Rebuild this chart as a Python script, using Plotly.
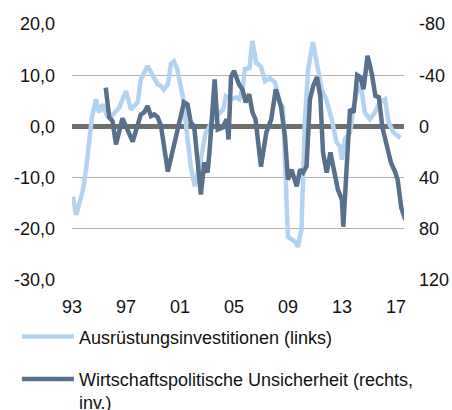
import plotly.graph_objects as go

# Ausrüstungsinvestitionen (links), % yoy
inv_years = [1993.07, 1993.3, 1993.52, 1993.81, 1994.04, 1994.26, 1994.48, 1994.78, 1995.0, 1995.27,
             1995.6, 1995.8, 1996.1, 1996.5, 1997.0, 1997.37, 1997.87, 1998.1, 1998.6, 1998.98,
             1999.35, 1999.6, 1999.8, 2000.1, 2000.33, 2000.55, 2000.8, 2001.2, 2001.57, 2001.8,
             2002.1, 2002.55, 2002.9, 2003.07, 2003.44, 2004.2, 2004.4, 2004.8, 2005.15, 2005.4,
             2005.67, 2005.8, 2006.15, 2006.37, 2006.65, 2007.0, 2007.3, 2007.67, 2008.04, 2008.4,
             2008.63, 2008.78, 2009.0, 2009.52, 2009.74, 2010.0, 2010.26, 2010.5, 2010.85, 2011.13,
             2011.5, 2011.87, 2012.24, 2012.6, 2012.85, 2013.0, 2013.22, 2013.6, 2013.87, 2014.24,
             2014.48, 2014.7, 2015.07, 2015.44, 2015.8, 2016.19, 2016.46, 2016.83, 2017.2, 2017.3]
inv_values = [-13.7, -17.3, -15.3, -12.4, -8.4, -2.5, 1.8, 5.3, 2.7, 4.3,
              2.0, 1.6, 2.4, 3.7, 6.9, 3.3, 4.7, 9.2, 11.8, 9.9,
              8.2, 7.9, 7.2, 8.2, 12.2, 12.7, 11.2, 5.9, -2.5, -7.8,
              -11.7, -6.5, -1.2, -0.6, 1.4, 3.3, 5.9, 5.3, 5.7, 5.3,
              7.8, 11.2, 11.4, 16.7, 12.4, 11.7, 8.8, 9.4, 8.6, 4.7,
              3.7, -5.1, -21.6, -22.5, -23.5, -20.2, 1.4, 11.2, 16.5, 12.5,
              7.3, 5.0, 1.4, -3.1, -3.9, -6.5, -2.5, -1.2, 3.9, 7.9,
              6.7, 2.7, 1.4, 2.7, 4.7, 5.3, 0.8, -1.2, -2.0, -1.6]

# Wirtschaftspolitische Unsicherheit (rechts, inv.)
unc_years = [1995.5, 1995.76, 1996.0, 1996.26, 1996.74, 1997.1, 1997.5, 1997.84, 1998.1, 1998.35,
             1998.6, 1998.85, 1999.1, 1999.35, 1999.6, 2000.1, 2000.8, 2001.3, 2001.56, 2001.8,
             2002.05, 2002.55, 2002.8, 2003.05, 2003.2, 2003.57, 2003.8, 2004.16, 2004.46, 2004.6,
             2004.78, 2005.0, 2005.37, 2005.62, 2005.87, 2006.13, 2006.37, 2006.6, 2007.0, 2007.4,
             2007.76, 2008.1, 2008.48, 2008.78, 2009.0, 2009.27, 2009.65, 2009.9, 2010.13, 2010.38,
             2010.63, 2010.87, 2011.15, 2011.4, 2011.6, 2011.87, 2012.15, 2012.37, 2012.7, 2013.0,
             2013.1, 2013.3, 2013.6, 2013.87, 2014.13, 2014.37, 2014.6, 2014.9, 2015.22, 2015.48,
             2015.74, 2016.0, 2016.33, 2016.63, 2016.93, 2017.13, 2017.4, 2017.7]
unc_values = [-30.3, -7.1, -4.2, 14.1, -6.3, 2.4, 11.8, -0.2, -9.4, -11.0,
              -15.9, -8.1, -9.4, -7.1, 0.0, 35.3, 2.4, -18.8, -17.2, -3.1,
              0.0, 53.3, 28.2, 36.1, 18.0, -36.8, 2.4, 0.8, -5.5, 10.2,
              -38.4, -43.4, -32.9, -29.0, -18.8, -25.1, -11.0, -5.5, 31.4, 4.7,
              -5.5, -29.0, -15.7, 7.8, 41.6, 33.7, 46.8, 33.7, 36.1, 31.1,
              -21.2, -31.6, -38.4, -23.5, 20.4, 36.1, 20.4, 33.7, 49.4, 57.2,
              78.4, 41.6, -13.3, -11.0, -40.0, -38.4, -29.0, -55.1, -40.8, -23.8,
              -22.7, 0.8, 15.4, 28.2, 35.3, 41.6, 63.5, 72.9]

x_tickvals = [1993, 1997, 2001, 2005, 2009, 2013, 2017]
x_ticktext = ["93", "97", "01", "05", "09", "13", "17"]
y_left_ticks = [-30, -20, -10, 0, 10, 20]
y_left_labels = ["-30,0", "-20,0", "-10,0", "0,0", "10,0", "20,0"]
y_right_ticks = [-80, -40, 0, 40, 80, 120]
y_right_labels = ["-80", "-40", "0", "40", "80", "120"]

LIGHT = "#b4d3f0"
DARK = "#58708a"
FONT = "Liberation Sans, Arial, sans-serif"
FS = 18

fig = go.Figure()
fig.add_trace(go.Scatter(
    x=inv_years, y=inv_values, mode="lines", name="Ausrüstungsinvestitionen (links)",
    line=dict(color=LIGHT, width=4.5), legendgroup="a", yaxis="y"))
fig.add_trace(go.Scatter(
    x=unc_years, y=unc_values, mode="lines",
    name="Wirtschaftspolitische Unsicherheit (rechts,<br>inv.)",
    line=dict(color=DARK, width=4.5), legendgroup="b", yaxis="y2"))

fig.update_layout(
    width=452, height=410,
    margin=dict(l=72, r=48, t=24, b=130, autoexpand=False),
    paper_bgcolor="white", plot_bgcolor="white",
    separators=",.",
    font=dict(family=FONT, size=FS, color="#111111"),
    showlegend=True,
    legend=dict(
        orientation="v", x=-0.166, xanchor="left", y=-0.15, yanchor="top",
        yref="paper", xref="paper",
        font=dict(family=FONT, size=FS, color="#111111"),
        tracegroupgap=16, itemwidth=52, valign="top",
        bgcolor="rgba(0,0,0,0)",
    ),
    xaxis=dict(
        range=[1993, 2017.6], tickvals=x_tickvals, ticktext=x_ticktext,
        showgrid=False, zeroline=False, showline=False, ticks="",
        tickfont=dict(size=FS), ticklabelstandoff=14,
    ),
    yaxis=dict(
        range=[-30, 20], tickvals=y_left_ticks, ticktext=y_left_labels,
        showgrid=True, gridcolor="#b3b3b3", gridwidth=1,
        zeroline=True, zerolinecolor="#6e6e6e", zerolinewidth=5,
        showline=False, ticks="", tickfont=dict(size=FS), ticklabelstandoff=16,
    ),
    yaxis2=dict(
        range=[120, -80], tickvals=y_right_ticks, ticktext=y_right_labels,
        overlaying="y", side="right",
        showgrid=False, zeroline=False, showline=False, ticks="",
        tickfont=dict(size=FS), ticklabelstandoff=14,
    ),
)

fig.write_html(
    "out.html",
    config={"displayModeBar": False},
    post_script="document.body.style.margin='0';document.body.style.overflow='hidden';",
)
